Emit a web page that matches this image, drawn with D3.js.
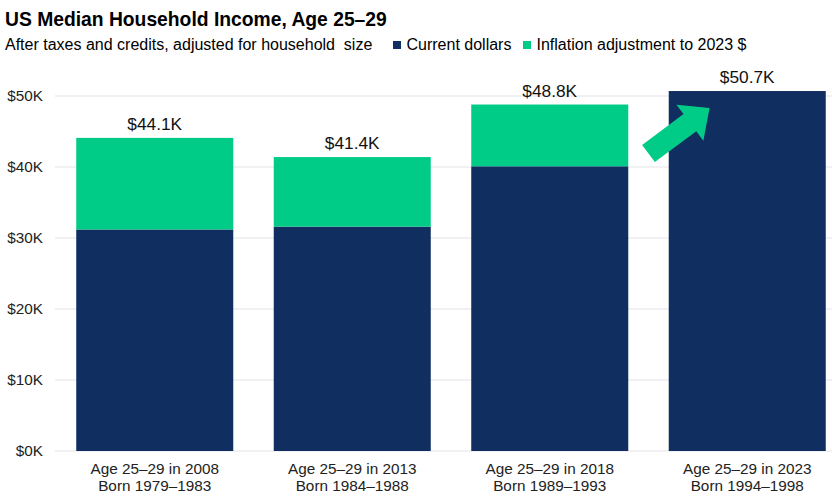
<!DOCTYPE html>
<html>
<head>
<meta charset="utf-8">
<script src="https://cdn.jsdelivr.net/npm/d3@7"></script>
<style>
  html, body { margin: 0; padding: 0; background: #fff; }
  svg { display: block; font-family: "Liberation Sans", Arial, sans-serif; }
</style>
</head>
<body>
<svg id="chart" width="832" height="498"></svg>
<script>
// ---- Data ----
const categories = ["2008", "2013", "2018", "2023"];
const labelLine1 = ["Age 25\u201329 in 2008", "Age 25\u201329 in 2013", "Age 25\u201329 in 2018", "Age 25\u201329 in 2023"];
const labelLine2 = ["Born 1979\u20131983", "Born 1984\u20131988", "Born 1989\u20131993", "Born 1994\u20131998"];
const currentDollars = [31.2, 31.6, 40.1, 50.7];
const totals2023 = [44.1, 41.4, 48.8, 50.7];
const inflationAdj = totals2023.map((t, i) => +(t - currentDollars[i]).toFixed(1));
const totalLabels = ["$44.1K", "$41.4K", "$48.8K", "$50.7K"];
const yTicks = [0, 10, 20, 30, 40, 50];
const seriesNames = ["Current dollars", "Inflation adjustment to 2023 $"];

const NAVY = "#112e61";
const GREEN = "#00cc88";

const svg = d3.select("#chart");
const W = 832, H = 498;

const x = d3.scaleBand().domain(categories).range([56, 846]).paddingInner(0.205).paddingOuter(0.1025);
const y = d3.scaleLinear().domain([0, 50]).range([451, 96]);

// Title & subtitle
svg.append("text").attr("x", 5).attr("y", 26)
  .attr("font-size", 19.3).attr("font-weight", "bold").attr("fill", "#000")
  .text("US Median Household Income, Age 25\u201329");
svg.append("text").attr("x", 5).attr("y", 50)
  .attr("font-size", 16).attr("fill", "#000").style("white-space", "pre")
  .text("After taxes and credits, adjusted for household  size");

// Legend
const legend = svg.append("g");
const legendItems = [
  { name: seriesNames[0], color: NAVY, x: 393 },
  { name: seriesNames[1], color: GREEN, x: 523 }
];
legendItems.forEach(d => {
  legend.append("rect").attr("x", d.x).attr("y", 41).attr("width", 8).attr("height", 8).attr("fill", d.color);
  legend.append("text").attr("x", d.x + 13.5).attr("y", 50).attr("font-size", 16).attr("fill", "#000").text(d.name);
});

// Gridlines
svg.append("g").selectAll("line").data(yTicks).join("line")
  .attr("x1", 55).attr("x2", W)
  .attr("y1", d => y(d)).attr("y2", d => y(d))
  .attr("stroke", "#e4e4ea").attr("stroke-width", 1.2);

// Y axis labels
const yAxis = d3.axisLeft(y).tickValues(yTicks).tickFormat(d => "$" + d + "K").tickSize(0).tickPadding(0);
const yg = svg.append("g").attr("transform", "translate(43,0)").call(yAxis);
yg.select(".domain").remove();
yg.selectAll("text").attr("font-size", 15.3).attr("fill", "#222")
  .attr("font-family", "Liberation Sans, Arial, sans-serif");

// Stacked bars
const stackData = categories.map((c, i) => ({ cat: c, current: currentDollars[i], inflation: inflationAdj[i] }));
const stack = d3.stack().keys(["current", "inflation"]);
const series = stack(stackData);
const colors = { current: NAVY, inflation: GREEN };

svg.append("g").selectAll("g").data(series).join("g")
  .attr("fill", d => colors[d.key])
  .selectAll("rect").data(d => d).join("rect")
  .attr("x", d => x(d.data.cat))
  .attr("width", x.bandwidth())
  .attr("y", d => y(d[1]))
  .attr("height", d => Math.max(0, y(d[0]) - y(d[1])));

// Total labels
svg.append("g").selectAll("text").data(categories).join("text")
  .attr("x", d => x(d) + x.bandwidth() / 2)
  .attr("y", (d, i) => y(totals2023[i]) - 8)
  .attr("text-anchor", "middle").attr("font-size", 17.3).attr("fill", "#111")
  .text((d, i) => totalLabels[i]);

// X axis labels
const xl = svg.append("g");
categories.forEach((c, i) => {
  const cx = x(c) + x.bandwidth() / 2;
  xl.append("text").attr("x", cx).attr("y", 473.5).attr("text-anchor", "middle")
    .attr("font-size", 15.3).attr("fill", "#222").text(labelLine1[i]);
  xl.append("text").attr("x", cx).attr("y", 490.5).attr("text-anchor", "middle")
    .attr("font-size", 15.3).attr("fill", "#222").text(labelLine2[i]);
});

// Arrow annotation (from gap between 2018 and 2023 into 2023 bar)
const ax0 = x(categories[2]) + x.bandwidth() + (x.step() - x.bandwidth()) / 2;
const ay0 = y(41.9);
const ax1 = x(categories[3]) + 0.26 * x.bandwidth();
const ay1 = y(48.3);
const dx = ax1 - ax0, dy = ay1 - ay0, L = Math.hypot(dx, dy);
const ux = dx / L, uy = dy / L, nx = -uy, ny = ux;
const shaftHalf = 10.7, headHalf = 22.5, headLen = 24.5;
const bx = ax1 - ux * headLen, by = ay1 - uy * headLen;
const pts = [
  [ax0 + nx * shaftHalf, ay0 + ny * shaftHalf],
  [bx + nx * shaftHalf, by + ny * shaftHalf],
  [bx + nx * headHalf, by + ny * headHalf],
  [ax1, ay1],
  [bx - nx * headHalf, by - ny * headHalf],
  [bx - nx * shaftHalf, by - ny * shaftHalf],
  [ax0 - nx * shaftHalf, ay0 - ny * shaftHalf]
];
svg.append("path").attr("d", d3.line()(pts) + "Z").attr("fill", GREEN);
</script>
</body>
</html>
